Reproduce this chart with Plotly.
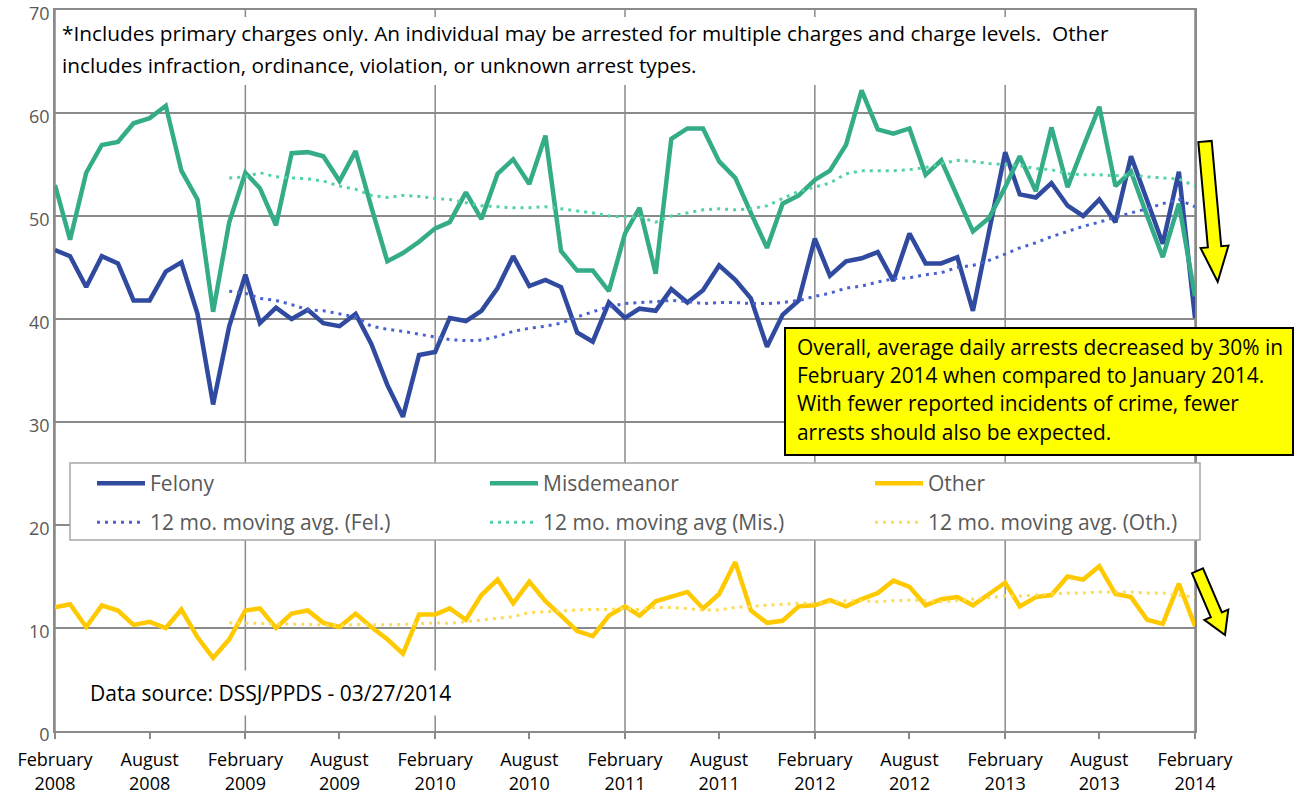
import plotly.graph_objects as go
import pandas as pd
import math

# ---------------- data ----------------
months = pd.date_range("2008-02-01", periods=73, freq="MS")

felony = [46.7, 46.1, 43.1, 46.1, 45.4, 41.8, 41.8, 44.6, 45.5, 40.5,
          31.7, 39.3, 44.3, 39.6, 41.1, 40.0, 40.9, 39.6, 39.3, 40.5,
          37.6, 33.6, 30.5, 36.5, 36.8, 40.1, 39.8, 40.8, 43.0, 46.1,
          43.2, 43.8, 43.1, 38.7, 37.8, 41.6, 40.1, 41.0, 40.8, 42.9,
          41.6, 42.8, 45.2, 43.8, 42.0, 37.3, 40.4, 41.8, 47.8, 44.2,
          45.6, 45.9, 46.5, 43.7, 48.3, 45.4, 45.4, 46.0, 40.8, 48.5,
          56.2, 52.1, 51.8, 53.2, 51.0, 50.0, 51.6, 49.4, 55.8, 51.5,
          47.3, 54.3, 40.1]

misdemeanor = [53.0, 47.7, 54.2, 56.9, 57.2, 59.0, 59.5, 60.7, 54.4, 51.6,
               40.7, 49.4, 54.2, 52.7, 49.1, 56.1, 56.2, 55.8, 53.4, 56.3,
               50.9, 45.6, 46.4, 47.5, 48.8, 49.4, 52.3, 49.7, 54.1, 55.5,
               53.1, 57.8, 46.6, 44.7, 44.7, 42.7, 48.3, 50.8, 44.4, 57.5,
               58.5, 58.5, 55.3, 53.7, 50.3, 46.9, 51.2, 52.0, 53.5, 54.4,
               56.9, 62.2, 58.4, 58.0, 58.5, 54.0, 55.4, 51.9, 48.5, 49.8,
               52.8, 55.8, 52.4, 58.6, 52.8, 56.7, 60.6, 52.9, 54.3, 50.0,
               46.0, 51.2, 42.2]

other = [12.0, 12.3, 10.1, 12.2, 11.7, 10.3, 10.6, 10.0, 11.8, 9.1,
         7.1, 8.9, 11.7, 11.9, 10.0, 11.4, 11.7, 10.5, 10.1, 11.4,
         10.1, 8.9, 7.5, 11.3, 11.3, 11.9, 10.8, 13.2, 14.7, 12.4,
         14.5, 12.6, 11.2, 9.7, 9.2, 11.2, 12.1, 11.2, 12.6, 13.0,
         13.5, 11.9, 13.3, 16.4, 11.7, 10.5, 10.7, 12.1, 12.2, 12.7,
         12.1, 12.8, 13.4, 14.6, 14.0, 12.2, 12.8, 13.0, 12.2, 13.3,
         14.4, 12.1, 13.0, 13.2, 15.0, 14.7, 16.0, 13.3, 13.0, 10.8,
         10.4, 14.3, 10.2]

# 12-month moving averages (start January 2009)
felony_ma = [42.7, 42.5, 42.0, 41.8, 41.4, 40.9, 40.8, 40.5, 40.2, 39.3,
             39.0, 38.8, 38.5, 38.2, 38.0, 37.9, 37.95, 38.3, 38.8, 39.1,
             39.3, 39.6, 40.2, 40.7, 41.2, 41.5, 41.6, 41.7, 41.8, 41.7,
             41.5, 41.6, 41.6, 41.5, 41.5, 41.6, 41.8, 42.2, 42.5, 43.0,
             43.2, 43.6, 43.9, 44.0, 44.3, 44.5, 45.0, 45.2, 45.7, 46.3,
             46.9, 47.4, 48.0, 48.5, 49.0, 49.4, 49.9, 50.3, 50.7, 51.2,
             51.6, 50.9]

misdemeanor_ma = [53.7, 53.8, 54.2, 53.8, 53.7, 53.6, 53.4, 52.9, 52.6, 52.0,
                  51.8, 52.0, 51.9, 51.7, 51.6, 51.3, 51.0, 50.9, 50.8, 50.8,
                  50.9, 50.7, 50.5, 50.3, 50.0, 49.9, 49.9, 49.4, 50.0, 50.3,
                  50.6, 50.7, 50.6, 50.7, 51.0, 51.7, 52.4, 52.8, 53.2, 54.1,
                  54.4, 54.4, 54.4, 54.5, 54.7, 55.1, 55.4, 55.3, 55.1, 55.0,
                  54.9, 54.6, 54.5, 54.1, 54.0, 54.0, 53.9, 54.0, 53.8, 53.7,
                  53.6, 52.9]

other_ma = [10.5, 10.5, 10.45, 10.4, 10.4, 10.35, 10.3, 10.2, 10.35, 10.3,
            10.3, 10.35, 10.45, 10.5, 10.45, 10.6, 10.8, 10.9, 11.1, 11.5,
            11.6, 11.7, 11.75, 11.8, 11.8, 11.9, 11.8, 12.0, 12.0, 11.9,
            11.75, 11.75, 12.0, 12.1, 12.2, 12.3, 12.4, 12.4, 12.55, 12.65,
            12.65, 12.55, 12.65, 12.7, 12.65, 12.55, 12.65, 12.8, 13.0, 13.1,
            13.1, 13.2, 13.3, 13.4, 13.4, 13.5, 13.5, 13.5, 13.4, 13.4,
            13.2, 13.0]

tick_labels = ["February<br>2008", "August<br>2008", "February<br>2009", "August<br>2009",
               "February<br>2010", "August<br>2010", "February<br>2011", "August<br>2011",
               "February<br>2012", "August<br>2012", "February<br>2013", "August<br>2013",
               "February<br>2014"]
y_ticks = [0, 10, 20, 30, 40, 50, 60, 70]

note_lines = ["*Includes primary charges only. An individual may be arrested for multiple charges and charge levels.  Other",
              "includes infraction, ordinance, violation, or unknown arrest types."]
callout_lines = ["Overall, average daily arrests decreased by 30% in",
                 "February 2014 when compared to January 2014.",
                 "With fewer reported incidents of crime, fewer",
                 "arrests should also be expected."]
source_text = "Data source: DSSJ/PPDS - 03/27/2014"

# ---------------- styling ----------------
FONT = "Open Sans"
C_FEL, C_MIS, C_OTH = "#2f4a9f", "#34ac88", "#ffc900"
C_FEL_MA, C_MIS_MA, C_OTH_MA = "#4862d2", "#52d3a3", "#ffdc55"
GRID = "#8a8a8a"
TXT = "#595959"

PL, PR, PT, PB = 55, 1195, 10, 731
W, H = PR - PL, PB - PT
def fx(x):
    return (x - PL) / W
def fy(y):
    return (PB - y) / H

fig = go.Figure()
main = [("Felony", felony, C_FEL, 330), ("Misdemeanor", misdemeanor, C_MIS, 322), ("Other", other, C_OTH, 280)]
for name, vals, col, lw in main:
    fig.add_trace(go.Scatter(x=months, y=vals, name=name, mode="lines",
                             line=dict(color=col, width=4.5), legend="legend", legendwidth=lw))
mas = [("12 mo. moving avg. (Fel.)", felony_ma, C_FEL_MA, 330),
       ("12 mo. moving avg (Mis.)", misdemeanor_ma, C_MIS_MA, 322),
       ("12 mo. moving avg. (Oth.)", other_ma, C_OTH_MA, 280)]
for name, vals, col, lw in mas:
    fig.add_trace(go.Scatter(x=months[11:], y=vals, name=name, mode="lines",
                             line=dict(color=col, width=3, dash="3px,5px"), legend="legend2", legendwidth=lw))

shapes = []
# yearly vertical gridlines
for d in months[::12]:
    shapes.append(dict(type="line", xref="x", yref="paper", x0=d, x1=d, y0=0, y1=1,
                       layer="below", line=dict(color=GRID, width=1.5)))
# white background behind note
shapes.append(dict(type="rect", xref="paper", yref="paper", x0=fx(57), x1=fx(1192), y0=fy(85), y1=fy(17),
                   layer="above", fillcolor="white", line=dict(width=0)))
# legend box
shapes.append(dict(type="rect", xref="paper", yref="paper", x0=fx(70), x1=fx(1200), y0=fy(540), y1=fy(463),
                   layer="above", fillcolor="white", line=dict(color="#a6a6a6", width=1.5)))
# yellow callout box
shapes.append(dict(type="rect", xref="paper", yref="paper", x0=fx(785), x1=fx(1293), y0=fy(455), y1=fy(328),
                   layer="above", fillcolor="#ffff00", line=dict(color="black", width=2)))

def arrow_path(T, P, sw, hw, hl):
    dx, dy = P[0] - T[0], P[1] - T[1]
    L = math.hypot(dx, dy)
    ux, uy = dx / L, dy / L
    nx, ny = uy, -ux
    B = (P[0] - hl * ux, P[1] - hl * uy)
    pts = [(T[0] + sw * nx, T[1] + sw * ny), (B[0] + sw * nx, B[1] + sw * ny),
           (B[0] + hw * nx, B[1] + hw * ny), P,
           (B[0] - hw * nx, B[1] - hw * ny), (B[0] - sw * nx, B[1] - sw * ny),
           (T[0] - sw * nx, T[1] - sw * ny)]
    return "M " + " L ".join(f"{fx(x):.5f},{fy(y):.5f}" for x, y in pts) + " Z"

shapes.append(dict(type="path", xref="paper", yref="paper", layer="above",
                   path=arrow_path((1205, 141.5), (1217.7, 281.7), 6.7, 14, 35),
                   fillcolor="#ffff00", line=dict(color="black", width=2)))
shapes.append(dict(type="path", xref="paper", yref="paper", layer="above",
                   path=arrow_path((1197.5, 570.8), (1225, 635), 6, 13, 22),
                   fillcolor="#ffff00", line=dict(color="black", width=2)))

annotations = []
for txt, yy in zip(note_lines, [33, 65]):
    annotations.append(dict(text=txt, xref="paper", yref="paper", x=fx(60), y=fy(yy),
                            xanchor="left", yanchor="middle", showarrow=False,
                            font=dict(family=FONT, size=20.8, color="black")))
for txt, yy in zip(callout_lines, [346.7, 375, 403.3, 431.7]):
    annotations.append(dict(text=txt, xref="paper", yref="paper", x=fx(795), y=fy(yy),
                            xanchor="left", yanchor="middle", showarrow=False,
                            font=dict(family=FONT, size=20.9, color="black")))
annotations.append(dict(text=source_text, xref="paper", yref="paper", x=fx(81), y=fy(693),
                        xanchor="left", yanchor="middle", showarrow=False, bgcolor="white", borderpad=8,
                        font=dict(family=FONT, size=21, color="black")))

fig.update_layout(
    width=1295, height=799,
    margin=dict(l=PL, r=1295 - PR, t=PT, b=799 - PB, autoexpand=False),
    paper_bgcolor="white", plot_bgcolor="white",
    font=dict(family=FONT, size=19, color=TXT),
    shapes=shapes, annotations=annotations,
    legend=dict(orientation="h", x=fx(92), y=fy(463), xanchor="left", yanchor="top",
                bgcolor="rgba(0,0,0,0)", itemwidth=48, font=dict(family=FONT, size=21, color=TXT)),
    legend2=dict(orientation="h", x=fx(92), y=fy(502), xanchor="left", yanchor="top",
                 bgcolor="rgba(0,0,0,0)", itemwidth=48, font=dict(family=FONT, size=21, color=TXT)),
    xaxis=dict(type="date", range=[months[0], months[-1]], tickmode="array",
               tickvals=list(months[::6]), ticktext=tick_labels, ticks="outside", ticklen=6,
               tickcolor=GRID, tickwidth=1.5, showgrid=False, showline=True, linecolor=GRID,
               linewidth=1.5, mirror=True, ticklabeloverflow="allow", ticklabelstandoff=6,
               automargin=False, tickfont=dict(family=FONT, size=18, color="black")),
    yaxis=dict(range=[0, 70], tickmode="array", tickvals=y_ticks, showgrid=True, gridcolor=GRID,
               gridwidth=1.5, zeroline=False, showline=True, linecolor=GRID, linewidth=1.5, mirror=True,
               ticks="", ticklabeloverflow="allow", automargin=False, ticklabelshift=4,
               tickfont=dict(family=FONT, size=18, color=TXT)),
)

fig.write_html("out.html", config={"displayModeBar": False},
               post_script="document.body.style.margin='0px';")
